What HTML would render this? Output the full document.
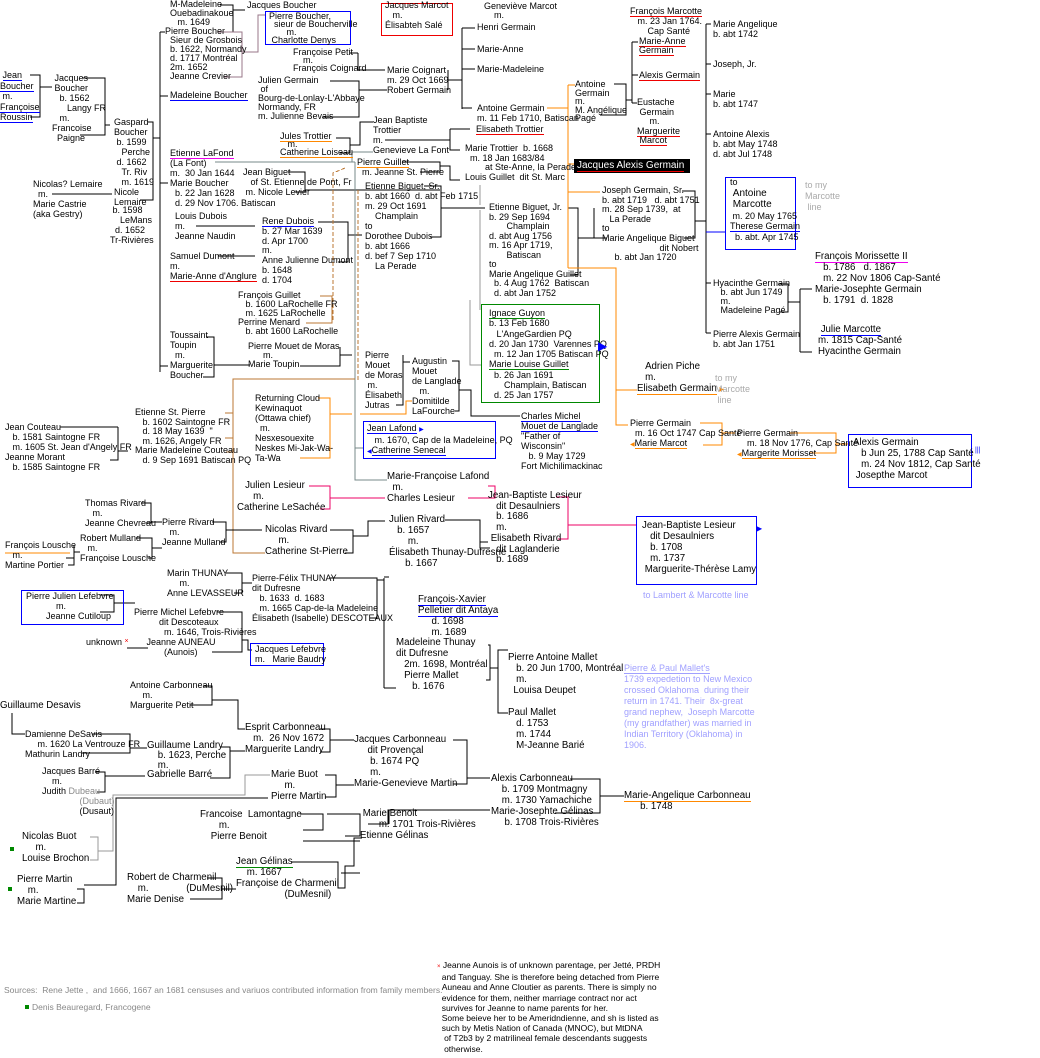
<!DOCTYPE html>
<html><head><meta charset="utf-8"><style>
body{margin:0;background:#fff;}
#w{position:relative;width:1040px;height:1058px;overflow:hidden;font-family:"Liberation Sans",sans-serif;font-size:9px;color:#000;}
.t{position:absolute;line-height:10px;white-space:nowrap;}
.L{font-size:9.7px;line-height:11px;}
.ub{border-bottom:1px solid #00f;}
.ur{border-bottom:1px solid #e00;}
.uo{border-bottom:1px solid #f80;}
.um{border-bottom:1px solid #e0e;}
.ug{border-bottom:1px solid #080;}
.box{position:absolute;border:1px solid #00f;}
svg{position:absolute;left:0;top:0;}
</style></head><body><div id="w">
<svg width="1040" height="1058" fill="none" stroke="#000" stroke-width="1" shape-rendering="crispEdges">
<path d="M30 75H40V117H30M40 87H52"/>
<path d="M82 78H105V135H80M105 125H110"/>
<path d="M148 122H153V200H140M153 138H160"/>
<path d="M160 32V372"/>
<path d="M160 32H165M160 96H168M160 183H168M160 366H168"/>
<path d="M52 194H112"/>
<path d="M220 5H233V32H222M233 10H245"/>
<path d="M218 32H242V77H224M242 52H258V15H265" stroke="#978"/>
<path d="M358 53V70H373M350 53H358M373 70H385"/>
<path d="M330 81H359V117H322M359 90H387"/>
<path d="M336 138H350V153H340M350 145H360V122H373"/>
<path d="M288 172H305V192H295M305 190H440"/>
<path d="M196 226H255"/>
<path d="M218 256H255"/>
<path d="M318 222H348V262H338M348 235H362"/>
<path d="M320 296H332V323H306" stroke="#b73"/>
<path d="M333 320V173L345 168" stroke="#b73" stroke-dasharray="4,2"/>
<path d="M358 190V380" stroke="#b73" stroke-dasharray="4,2"/>
<path d="M206 337H214V377H203M214 365H250"/>
<path d="M340 347V366H300M340 355H352"/>
<path d="M215 162H355M352 162V152H373" stroke="#788"/>
<path d="M355 162V480H387" stroke="#788"/>
<path d="M355 448H363" stroke="#788"/>
<path d="M480 185V205M480 210V310" stroke="#999"/>
<path d="M470 300V365H481" stroke="#999"/>
<path d="M448 70V90M448 80H462M462 28V109M462 28H475M462 49H475M462 69H475M462 108H472"/>
<path d="M385 140H450M450 129H470M450 129V150H460"/>
<path d="M402 162H440V172H420M440 166H450V180H460"/>
<path d="M424 186H441V237H430M441 208H485"/>
<path d="M568 208H578V275H570M578 238H594V208M594 238H607"/>
<path d="M403 355V405H396M403 362H410"/>
<path d="M452 361H459V411H455M459 390H471V416H520"/>
<path d="M355 379H233V553H265" stroke="#b73"/>
<path d="M225 413H233V452H226M225 438H233" stroke="#b73"/>
<path d="M118 427V460H110M118 427H60M118 451H128"/>
<path d="M318 398H330V458H300M330 414H352M360 414H406V401H412" stroke="#f80"/>
<path d="M309 486H330V509H320M330 498H385M468 498H495V486H488" stroke="#e06"/>
<path d="M141 503H151V523H146M151 522H162"/>
<path d="M212 522H226V542H220M226 530H262"/>
<path d="M330 530H353V553H345M353 536H368V521H385M445 520H480V548H490M480 542H488"/>
<path d="M136 538H152V558H148M152 548H162"/>
<path d="M74 545V565H68M66 558H74M74 552H80"/>
<path d="M5 553H70" stroke="#f80"/>
<path d="M226 573H242V593H234M242 583H252"/>
<path d="M330 578H377V618H370M377 580H384M384 578V688M384 577H389M384 688H396"/>
<path d="M100 595H114V612H100M114 603H135"/>
<path d="M217 612H242V652H212M242 640H248V650H252"/>
<path d="M127 648H148"/>
<path d="M556 497H568V539H558M568 525H636" stroke="#e06"/>
<path d="M488 645H490V680H486M490 668H498V650H508M498 668V713H508"/>
<path d="M203 686H212V705H190M212 700H238V729H245"/>
<path d="M12 713V734H25M92 734H130V753H82M130 748H147"/>
<path d="M95 772H105V792H97M105 776H145"/>
<path d="M220 747H230V778H210M230 751H245"/>
<path d="M320 729H330V752H320M330 740H354"/>
<path d="M325 775H336V797H325M336 785H354"/>
<path d="M453 740H467V784H453M467 778H490"/>
<path d="M570 779H600V813H555M600 796H624"/>
<path d="M300 814H323V830H303M327 814H360V836H345M368 824H388V810H490M389 810V824"/>
<path d="M303 841H360"/>
<path d="M90 860H98V851H113V795H245V775H270" stroke="#999"/>
<path d="M90 837H98V860" stroke="#999"/>
<path d="M77 889H84V903H77M84 885H116V798H268"/>
<path d="M362 838H354V866H345V888H338V862H291M341 873H360"/>
<path d="M207 878H222V899H190M222 889H236"/>
<path d="M547 108H568M568 85V268M568 85H575M568 164H574M568 192H600M568 268H616V425H628M616 390H637" stroke="#f80"/>
<path d="M614 84H626V115H600M626 100H632M632 42V103M632 42H638M632 75H638M632 103H637"/>
<path d="M682 191H695V238H684M695 221H706M706 24V333M706 24H711M706 64H711M706 94H711M706 134H711M706 283H711M706 333H711"/>
<path d="M706 232H725" stroke="#00f"/>
<path d="M778 284H788V312H780M788 302H800M800 289V352M800 289H812M800 352H812"/>
<path d="M700 423H722V445H703M722 433H735M789 433H836V453H810M836 444H848" stroke="#f80"/>
</svg>

<div class="t" style="left:0px;top:70px;line-height:10.5px">&nbsp;<span class="ub">Jean</span><br><span class="ub">Boucher</span><br>&nbsp;m.<br><span class="ub">Françoise</span><br><span class="ub">Roussin</span></div>
<div class="t" style="left:52px;top:73px">&nbsp;Jacques<br>&nbsp;Boucher<br>&nbsp;&nbsp;&nbsp;b. 1562<br>&nbsp;&nbsp;&nbsp;&nbsp;&nbsp;&nbsp;Langy FR<br>&nbsp;&nbsp;&nbsp;m.<br>Francoise<br>&nbsp;&nbsp;Paigne</div>
<div class="t" style="left:114px;top:117px">Gaspard<br>Boucher<br>&nbsp;b. 1599<br>&nbsp;&nbsp;&nbsp;Perche<br>&nbsp;d. 1662<br>&nbsp;&nbsp;&nbsp;Tr. Riv<br>&nbsp;&nbsp;&nbsp;m. 1619<br>Nicole<br>Lemaire</div>
<div class="t" style="left:110px;top:205px">&nbsp;b. 1598<br>&nbsp;&nbsp;&nbsp;&nbsp;LeMans<br>&nbsp;&nbsp;d. 1652<br>Tr-Rivières</div>
<div class="t" style="left:33px;top:179px">Nicolas? Lemaire<br>&nbsp;&nbsp;m.<br>Marie Castrie<br>(aka Gestry)</div>

<div class="t" style="left:170px;top:0px;line-height:9px">M-Madeleine<br>Ouebadinakoue<br>&nbsp;&nbsp;&nbsp;m. 1649</div>
<div class="t" style="left:247px;top:0px">Jacques Boucher</div>
<div class="t" style="left:165px;top:27px;line-height:9px">Pierre Boucher<br>&nbsp;&nbsp;Sieur de Grosbois<br>&nbsp;&nbsp;b. 1622, Normandy<br>&nbsp;&nbsp;d. 1717 Montréal<br>&nbsp;&nbsp;2m. 1652<br>&nbsp;&nbsp;Jeanne Crevier</div>
<div class="box" style="left:265px;top:11px;width:84px;height:32px"></div>
<div class="t" style="left:269px;top:12px;line-height:8px">Pierre Boucher,<br>&nbsp;&nbsp;sieur de Boucherville<br>&nbsp;&nbsp;&nbsp;&nbsp;&nbsp;&nbsp;&nbsp;m.<br>&nbsp;Charlotte Denys</div>
<div class="t" style="left:170px;top:90px"><span class="ub">Madeleine Boucher</span></div>
<div class="t" style="left:170px;top:148px"><span class="um">Etienne LaFond</span><br>(La Font)<br>m.&nbsp; 30 Jan 1644<br>Marie Boucher<br>&nbsp;&nbsp;b. 22 Jan 1628<br>&nbsp;&nbsp;d. 29 Nov 1706. Batiscan</div>
<div class="t" style="left:175px;top:211px">Louis Dubois<br>m.<br>Jeanne Naudin</div>
<div class="t" style="left:170px;top:251px">Samuel Dumont<br>m.<br><span class="ur">Marie-Anne d'Anglure</span></div>
<div class="t" style="left:238px;top:291px;line-height:9px">François Guillet<br>&nbsp;&nbsp;&nbsp;b. 1600 LaRochelle FR<br>&nbsp;&nbsp;&nbsp;m. 1625 LaRochelle<br>Perrine Menard<br>&nbsp;&nbsp;&nbsp;b. abt 1600 LaRochelle</div>
<div class="t" style="left:170px;top:330px">Toussaint<br>Toupin<br>&nbsp;&nbsp;m.<br>Marguerite<br>Boucher</div>
<div class="t" style="left:248px;top:342px;line-height:9px">Pierre Mouet de Moras<br>&nbsp;&nbsp;&nbsp;&nbsp;&nbsp;&nbsp;m.<br>Marie Toupin</div>

<div class="t" style="left:293px;top:48px;line-height:8px">Françoise Petit<br>&nbsp;&nbsp;&nbsp;&nbsp;m.<br>François Coignard</div>
<div class="t" style="left:258px;top:76px;line-height:9px">Julien Germain<br>&nbsp;of<br>Bourg-de-Lonlay-L'Abbaye<br>Normandy, FR<br>m. Julienne Bevais</div>
<div class="t" style="left:280px;top:132px;line-height:8px"><span class="uo">Jules Trottier</span><br>&nbsp;&nbsp;&nbsp;m.<br><span class="uo">Catherine Loiseau</span></div>
<div class="t" style="left:373px;top:115px">Jean Baptiste<br>Trottier<br>m.<br>Genevieve La Font</div>
<div class="t" style="left:243px;top:167px">Jean Biguet<br>&nbsp;&nbsp;&nbsp;of St. Etienne de Pont, Fr<br>&nbsp;m. Nicole Levier</div>
<div class="t" style="left:262px;top:217px;line-height:9.8px"><span class="ub">Rene Dubois</span><br>b. 27 Mar 1639<br>d. Apr 1700<br>m.<br>Anne Julienne Dumont<br>b. 1648<br>d. 1704</div>
<div class="t" style="left:255px;top:393px">Returning Cloud<br>Kewinaquot<br>(Ottawa chief)<br>&nbsp;&nbsp;m.<br>Nesxesouexite<br>Neskes Mi-Jak-Wa-<br>Ta-Wa</div>
<div class="t" style="left:135px;top:408px;line-height:9.5px">Etienne St. Pierre<br>&nbsp;&nbsp;&nbsp;b. 1602 Saintogne FR<br>&nbsp;&nbsp;&nbsp;d. 18 May 1639 &nbsp;"<br>&nbsp;&nbsp;&nbsp;m. 1626, Angely FR<br>Marie Madeleine Couteau<br>&nbsp;&nbsp;&nbsp;d. 9 Sep 1691 Batiscan PQ</div>
<div class="t" style="left:5px;top:422px">Jean Couteau<br>&nbsp;&nbsp;&nbsp;b. 1581 Saintogne FR<br>&nbsp;&nbsp;&nbsp;m. 1605 St. Jean d'Angely FR<br>Jeanne Morant<br>&nbsp;&nbsp;&nbsp;b. 1585 Saintogne FR</div>
<div class="t L" style="left:237px;top:480px">&nbsp;&nbsp;&nbsp;Julien Lesieur<br>&nbsp;&nbsp;&nbsp;&nbsp;&nbsp;&nbsp;m.<br>Catherine LeSachée</div>
<div class="t" style="left:85px;top:498px">Thomas Rivard<br>&nbsp;&nbsp;&nbsp;m.<br>Jeanne Chevreau</div>
<div class="t" style="left:162px;top:517px">Pierre Rivard<br>&nbsp;&nbsp;&nbsp;m.<br>Jeanne Mulland</div>
<div class="t L" style="left:265px;top:524px">Nicolas Rivard<br>&nbsp;&nbsp;&nbsp;&nbsp;&nbsp;m.<br>Catherine St-Pierre</div>
<div class="t" style="left:80px;top:533px">Robert Mulland<br>&nbsp;&nbsp;&nbsp;m.<br>Françoise Lousche</div>
<div class="t" style="left:5px;top:540px">François Lousche<br>&nbsp;&nbsp;&nbsp;m.<br>Martine Portier</div>
<div class="t" style="left:167px;top:568px">Marin THUNAY<br>&nbsp;&nbsp;&nbsp;&nbsp;&nbsp;m.<br>Anne LEVASSEUR</div>
<div class="t" style="left:252px;top:573px">Pierre-Félix THUNAY<br>dit Dufresne<br>&nbsp;&nbsp;&nbsp;b. 1633&nbsp; d. 1683<br>&nbsp;&nbsp;&nbsp;m. 1665 Cap-de-la Madeleine<br>Élisabeth (Isabelle) DESCOTEAUX</div>
<div class="box" style="left:21px;top:590px;width:101px;height:33px"></div>
<div class="t" style="left:26px;top:591px">Pierre Julien Lefebvre<br>&nbsp;&nbsp;&nbsp;&nbsp;&nbsp;&nbsp;&nbsp;&nbsp;&nbsp;&nbsp;&nbsp;&nbsp;m.<br>&nbsp;&nbsp;&nbsp;&nbsp;&nbsp;&nbsp;&nbsp;&nbsp;Jeanne Cutiloup</div>
<div class="t" style="left:134px;top:607px">Pierre Michel Lefebvre<br>&nbsp;&nbsp;&nbsp;&nbsp;&nbsp;&nbsp;&nbsp;&nbsp;&nbsp;&nbsp;dit Descoteaux<br>&nbsp;&nbsp;&nbsp;&nbsp;&nbsp;&nbsp;&nbsp;&nbsp;&nbsp;&nbsp;&nbsp;&nbsp;m. 1646, Trois-Rivières<br>&nbsp;&nbsp;&nbsp;&nbsp;&nbsp;Jeanne AUNEAU<br>&nbsp;&nbsp;&nbsp;&nbsp;&nbsp;&nbsp;&nbsp;&nbsp;&nbsp;&nbsp;&nbsp;&nbsp;(Aunois)</div>
<div class="t" style="left:86px;top:637px">unknown <span style="color:#e00;font-size:7px;vertical-align:top">×</span></div>
<div class="box" style="left:250px;top:643px;width:72px;height:21px"></div>
<div class="t" style="left:255px;top:644px">Jacques Lefebvre<br>m.&nbsp;&nbsp; Marie Baudry</div>

<div class="box" style="left:381px;top:3px;width:70px;height:31px;border-color:#e00"></div>
<div class="t" style="left:385px;top:0px">Jacques Marcot<br>&nbsp;&nbsp;&nbsp;m.<br>Élisabteh Salé</div>
<div class="t" style="left:484px;top:2px;line-height:9px">Geneviève Marcot<br>&nbsp;&nbsp;&nbsp;&nbsp;m.</div>
<div class="t" style="left:477px;top:22px">Henri Germain</div>
<div class="t" style="left:477px;top:44px">Marie-Anne</div>
<div class="t" style="left:477px;top:64px">Marie-Madeleine</div>
<div class="t" style="left:477px;top:103px">Antoine Germain<br>m. 11 Feb 1710, Batiscan</div>
<div class="t" style="left:387px;top:65px">Marie Coignart<br>m. 29 Oct 1669<br>Robert Germain</div>
<div class="t" style="left:476px;top:124px"><span class="ur">Elisabeth Trottier</span></div>
<div class="t" style="left:465px;top:144px;line-height:9.5px">Marie Trottier&nbsp; b. 1668<br>&nbsp;&nbsp;m. 18 Jan 1683/84<br>&nbsp;&nbsp;&nbsp;&nbsp;&nbsp;&nbsp;&nbsp;&nbsp;at Ste-Anne, la Perade<br>Louis Guillet&nbsp; dit St. Marc</div>
<div class="t" style="left:357px;top:157px"><span class="uo">Pierre Guillet</span><br>&nbsp;&nbsp;m. Jeanne St. Pierre</div>
<div class="t" style="left:365px;top:181px">Etienne Biguet, Sr.<br>b. abt 1660&nbsp; d. abt Feb 1715<br>m. 29 Oct 1691<br>&nbsp;&nbsp;&nbsp;&nbsp;Champlain<br>to<br>Dorothee Dubois<br>b. abt 1666<br>d. bef 7 Sep 1710<br>&nbsp;&nbsp;&nbsp;&nbsp;La Perade</div>
<div class="t" style="left:489px;top:203px;line-height:9.5px">Etienne Biguet, Jr.<br>b. 29 Sep 1694<br>&nbsp;&nbsp;&nbsp;&nbsp;&nbsp;&nbsp;&nbsp;Champlain<br>d. abt Aug 1756<br>m. 16 Apr 1719,<br>&nbsp;&nbsp;&nbsp;&nbsp;&nbsp;&nbsp;&nbsp;Batiscan<br>to<br>Marie Angelique Guillet<br>&nbsp;&nbsp;b. 4 Aug 1762&nbsp; Batiscan<br>&nbsp;&nbsp;d. abt Jan 1752</div>
<div class="box" style="left:481px;top:304px;width:117px;height:97px;border-color:#080"></div>
<div class="t" style="left:489px;top:308px;line-height:10.3px"><span class="ug">Ignace Guyon</span><br>b. 13 Feb 1680<br>&nbsp;&nbsp;&nbsp;L'AngeGardien PQ<br>d. 20 Jan 1730&nbsp; Varennes PQ<br>&nbsp;&nbsp;m. 12 Jan 1705 Batiscan PQ<br><span class="ug">Marie Louise Guillet</span><br>&nbsp;&nbsp;b. 26 Jan 1691<br>&nbsp;&nbsp;&nbsp;&nbsp;&nbsp;&nbsp;Champlain, Batiscan<br>&nbsp;&nbsp;d. 25 Jan 1757</div>
<div class="t" style="left:598px;top:341px;color:#00f;font-size:12px">&#9654;</div>
<div class="t" style="left:365px;top:350px">Pierre<br>Mouet<br>de Moras<br>&nbsp;m.<br>Élisabeth<br>Jutras</div>
<div class="t" style="left:412px;top:356px">Augustin<br>Mouet<br>de Langlade<br>&nbsp;&nbsp;&nbsp;m.<br>Domitilde<br>LaFourche</div>
<div class="t" style="left:521px;top:411px"><span class="ub">Charles Michel</span><br><span class="ub">Mouet de Langlade</span><br>"Father of<br>Wisconsin"<br>&nbsp;&nbsp;&nbsp;b. 9 May 1729<br>Fort Michilimackinac</div>
<div class="box" style="left:363px;top:421px;width:131px;height:36px"></div>
<div class="t" style="left:367px;top:423px"><span class="ub">Jean Lafond</span> <span style="color:#00f;font-size:6px">▶</span><br>&nbsp;&nbsp;&nbsp;m. 1670, Cap de la Madeleine, PQ<br><span style="color:#00f;font-size:6px">◀</span><span class="ub">Catherine Senecal</span></div>
<div class="t L" style="left:387px;top:471px">Marie-Françoise Lafond<br>&nbsp;&nbsp;m.<br>Charles Lesieur</div>
<div class="t L" style="left:488px;top:491px;line-height:10.7px">Jean-Baptiste Lesieur<br>&nbsp;&nbsp;&nbsp;dit Desaulniers<br>&nbsp;&nbsp;&nbsp;b. 1686<br>&nbsp;&nbsp;&nbsp;m.<br>&nbsp;Elisabeth Rivard<br>&nbsp;&nbsp;&nbsp;dit Laglanderie<br>&nbsp;&nbsp;&nbsp;b. 1689</div>
<div class="t L" style="left:389px;top:514px">Julien Rivard<br>&nbsp;&nbsp;&nbsp;b. 1657<br>&nbsp;&nbsp;&nbsp;&nbsp;&nbsp;&nbsp;&nbsp;m.<br>Élisabeth Thunay-Dufresne<br>&nbsp;&nbsp;&nbsp;&nbsp;&nbsp;&nbsp;b. 1667</div>
<div class="t L" style="left:418px;top:594px"><span class="ub">François-Xavier</span><br><span class="ub">Pelletier dit Antaya</span><br>&nbsp;&nbsp;&nbsp;&nbsp;&nbsp;d. 1698<br>&nbsp;&nbsp;&nbsp;&nbsp;&nbsp;m. 1689</div>
<div class="t L" style="left:396px;top:637px">Madeleine Thunay<br>dit Dufresne<br>&nbsp;&nbsp;&nbsp;2m. 1698, Montréal<br>&nbsp;&nbsp;&nbsp;Pierre Mallet<br>&nbsp;&nbsp;&nbsp;&nbsp;&nbsp;&nbsp;b. 1676</div>
<div class="t L" style="left:508px;top:652px">Pierre Antoine Mallet<br>&nbsp;&nbsp;&nbsp;b. 20 Jun 1700, Montréal<br>&nbsp;&nbsp;&nbsp;m.<br>&nbsp;&nbsp;Louisa Deupet</div>
<div class="t L" style="left:508px;top:707px">Paul Mallet<br>&nbsp;&nbsp;&nbsp;d. 1753<br>&nbsp;&nbsp;&nbsp;m. 1744<br>&nbsp;&nbsp;&nbsp;M-Jeanne Barié</div>
<div class="t" style="left:624px;top:663px;color:#a0a0ff;line-height:11px"><span style="border-bottom:1px solid #a0a0ff">Pierre &amp; Paul Mallet's</span><br>1739 expedetion to New Mexico<br>crossed Oklahoma&nbsp; during their<br>return in 1741. Their&nbsp; 8x-great<br>grand nephew,&nbsp; Joseph Marcotte<br>(my grandfather) was married in<br>Indian Territory (Oklahoma) in<br>1906.</div>

<div class="t" style="left:130px;top:680px">Antoine Carbonneau<br>&nbsp;&nbsp;&nbsp;&nbsp;&nbsp;m.<br>Marguerite Petit</div>
<div class="t L" style="left:0px;top:700px">Guillaume Desavis</div>
<div class="t" style="left:25px;top:729px">Damienne DeSavis<br>&nbsp;&nbsp;&nbsp;&nbsp;&nbsp;m. 1620 La Ventrouze FR<br>Mathurin Landry</div>
<div class="t" style="left:42px;top:766px">Jacques Barré<br>&nbsp;&nbsp;&nbsp;&nbsp;m.<br>Judith <span style="color:#888">Dubeau</span><br>&nbsp;&nbsp;&nbsp;&nbsp;&nbsp;&nbsp;&nbsp;&nbsp;&nbsp;&nbsp;&nbsp;&nbsp;&nbsp;&nbsp;&nbsp;<span style="color:#888">(Dubaut)</span><br>&nbsp;&nbsp;&nbsp;&nbsp;&nbsp;&nbsp;&nbsp;&nbsp;&nbsp;&nbsp;&nbsp;&nbsp;&nbsp;&nbsp;&nbsp;(Dusaut)</div>
<div class="t L" style="left:147px;top:741px;line-height:9.8px">Guillaume Landry<br>&nbsp;&nbsp;&nbsp;&nbsp;b. 1623, Perche<br>&nbsp;&nbsp;&nbsp;&nbsp;m.<br>Gabrielle Barré</div>
<div class="t L" style="left:245px;top:722px">Esprit Carbonneau<br>&nbsp;&nbsp;&nbsp;m.&nbsp; 26 Nov 1672<br>Marguerite Landry</div>
<div class="t L" style="left:354px;top:734px">Jacques Carbonneau<br>&nbsp;&nbsp;&nbsp;&nbsp;&nbsp;dit Provençal<br>&nbsp;&nbsp;&nbsp;&nbsp;&nbsp;&nbsp;b. 1674 PQ<br>&nbsp;&nbsp;&nbsp;&nbsp;&nbsp;&nbsp;m.<br>Marie-Genevieve Martin</div>
<div class="t L" style="left:271px;top:769px">Marie Buot<br>&nbsp;&nbsp;&nbsp;&nbsp;&nbsp;m.<br>Pierre Martin</div>
<div class="t L" style="left:491px;top:773px">Alexis Carbonneau<br>&nbsp;&nbsp;&nbsp;&nbsp;b. 1709 Montmagny<br>&nbsp;&nbsp;&nbsp;&nbsp;m. 1730 Yamachiche<br>Marie-Josephte Gélinas<br>&nbsp;&nbsp;&nbsp;&nbsp;&nbsp;b. 1708 Trois-Rivières</div>
<div class="t L" style="left:624px;top:790px"><span class="uo">Marie-Angelique Carbonneau</span><br>&nbsp;&nbsp;&nbsp;&nbsp;&nbsp;&nbsp;b. 1748</div>
<div class="t L" style="left:200px;top:809px">Francoise&nbsp; Lamontagne<br>&nbsp;&nbsp;&nbsp;&nbsp;&nbsp;&nbsp;&nbsp;m.<br>&nbsp;&nbsp;&nbsp;&nbsp;Pierre Benoit</div>
<div class="t L" style="left:360px;top:808px">&nbsp;Marie Benoit<br>&nbsp;&nbsp;&nbsp;&nbsp;&nbsp;&nbsp;&nbsp;m. 1701 Trois-Rivières<br>Etienne Gélinas</div>
<div style="position:absolute;left:10px;top:847px;width:4px;height:4px;background:#080"></div>
<div class="t L" style="left:22px;top:831px">Nicolas Buot<br>&nbsp;&nbsp;&nbsp;&nbsp;&nbsp;m.<br>Louise Brochon</div>
<div class="t L" style="left:236px;top:856px"><span class="ug">Jean Gélinas</span><br>&nbsp;&nbsp;&nbsp;&nbsp;m. 1667<br>Françoise de Charmenil<br>&nbsp;&nbsp;&nbsp;&nbsp;&nbsp;&nbsp;&nbsp;&nbsp;&nbsp;&nbsp;&nbsp;&nbsp;&nbsp;&nbsp;&nbsp;&nbsp;&nbsp;&nbsp;(DuMesnil)</div>
<div class="t L" style="left:127px;top:872px">Robert de Charmenil<br>&nbsp;&nbsp;&nbsp;&nbsp;m.&nbsp;&nbsp;&nbsp;&nbsp;&nbsp;&nbsp;&nbsp;&nbsp;&nbsp;&nbsp;&nbsp;&nbsp;&nbsp;&nbsp;(DuMesnil)<br>Marie Denise</div>
<div style="position:absolute;left:8px;top:887px;width:4px;height:4px;background:#080"></div>
<div class="t L" style="left:17px;top:874px">Pierre Martin<br>&nbsp;&nbsp;&nbsp;&nbsp;m.<br>Marie Martine</div>

<div class="t" style="left:4px;top:985px;color:#888;font-size:8.5px">Sources:&nbsp; Rene Jette ,&nbsp; and 1666, 1667 an 1681 censuses and variuos contributed information from family members.</div>
<div style="position:absolute;left:25px;top:1005px;width:4px;height:4px;background:#080"></div>
<div class="t" style="left:32px;top:1002px;color:#888;font-size:8.5px">Denis Beauregard, Francogene</div>
<div class="t" style="left:437px;top:960px;font-size:8.5px;line-height:10.2px"><span style="color:#e00;font-size:6px">×</span> Jeanne Aunois is of unknown parentage, per Jetté, PRDH<br>&nbsp;&nbsp;and Tanguay. She is therefore being detached from Pierre<br>&nbsp;&nbsp;Auneau and Anne Cloutier as parents. There is simply no<br>&nbsp;&nbsp;evidence for them, neither marriage contract nor act<br>&nbsp;&nbsp;survives for Jeanne to name parents for her.<br>&nbsp;&nbsp;Some beieve her to be Ameridndienne, and sh is listed as<br>&nbsp;&nbsp;such by Metis Nation of Canada (MNOC), but MtDNA<br>&nbsp;&nbsp;&nbsp;of T2b3 by 2 matrilineal female descendants suggests<br>&nbsp;&nbsp;&nbsp;otherwise.</div>

<div class="t" style="left:630px;top:6px"><span class="ur">François Marcotte</span><br>&nbsp;&nbsp;&nbsp;m. 23 Jan 1764.<br>&nbsp;&nbsp;&nbsp;&nbsp;&nbsp;&nbsp;&nbsp;Cap Santé</div>
<div class="t" style="left:639px;top:37px;line-height:9px"><span class="ur">Marie-Anne</span><br><span class="ur">Germain</span></div>
<div class="t" style="left:639px;top:70px"><span class="ur">Alexis Germain</span></div>
<div class="t" style="left:637px;top:98px;line-height:9.5px">Eustache<br>&nbsp;Germain<br>&nbsp;&nbsp;&nbsp;&nbsp;&nbsp;m.<br><span class="ur">Marguerite</span><br>&nbsp;<span class="ur">Marcot</span></div>
<div class="t" style="left:575px;top:80px;line-height:8.5px">Antoine<br>Germain<br>m.<br>M. Angélique<br>Pagé</div>
<div style="position:absolute;left:574px;top:159px;width:116px;height:14px;background:#000"></div>
<div class="t" style="left:577px;top:161px;color:#fff;font-size:10px"><span style="border-bottom:1px solid #e00">Jacques Alexis Germain</span></div>
<div class="t" style="left:602px;top:186px;line-height:9.6px">Joseph Germain, Sr.<br>b. abt 1719&nbsp;&nbsp; d. abt 1751<br>m. 28 Sep 1739,&nbsp; at<br>&nbsp;&nbsp;&nbsp;La Perade<br>to<br>Marie Angelique Biguet<br>&nbsp;&nbsp;&nbsp;&nbsp;&nbsp;&nbsp;&nbsp;&nbsp;&nbsp;&nbsp;&nbsp;&nbsp;&nbsp;&nbsp;&nbsp;&nbsp;&nbsp;&nbsp;&nbsp;&nbsp;&nbsp;&nbsp;&nbsp;dit Nobert<br>&nbsp;&nbsp;&nbsp;&nbsp;&nbsp;b. abt Jan 1720</div>
<div class="t" style="left:713px;top:19px">Marie Angelique<br>b. abt 1742</div>
<div class="t" style="left:713px;top:59px">Joseph, Jr.</div>
<div class="t" style="left:713px;top:89px">Marie<br>b. abt 1747</div>
<div class="t" style="left:713px;top:129px">Antoine Alexis<br>b. abt May 1748<br>d. abt Jul 1748</div>
<div class="box" style="left:725px;top:177px;width:69px;height:71px"></div>
<div class="t" style="left:730px;top:177px;line-height:10.5px">to<br><span style="font-size:10px">&nbsp;Antoine<br>&nbsp;Marcotte</span><br>&nbsp;m. 20 May 1765<br><span class="ub">Therese Germain</span><br>&nbsp;&nbsp;b. abt. Apr 1745</div>
<div class="t" style="left:805px;top:180px;color:#aaa;line-height:11px">to my<br>Marcotte<br>&nbsp;line</div>
<div class="t" style="left:713px;top:279px;line-height:9px">Hyacinthe Germain<br>&nbsp;&nbsp;&nbsp;b. abt Jun 1749<br>&nbsp;&nbsp;&nbsp;m.<br>&nbsp;&nbsp;&nbsp;Madeleine Pagé</div>
<div class="t" style="left:713px;top:329px">Pierre Alexis Germain<br>b. abt Jan 1751</div>
<div class="t L" style="left:815px;top:251px"><span class="um">François Morissette II</span><br>&nbsp;&nbsp;&nbsp;b. 1786&nbsp;&nbsp; d. 1867<br>&nbsp;&nbsp;&nbsp;m. 22 Nov 1806 Cap-Santé<br>Marie-Josephte Germain<br>&nbsp;&nbsp;&nbsp;b. 1791&nbsp; d. 1828</div>
<div class="t L" style="left:818px;top:324px">&nbsp;<span class="ub">Julie Marcotte</span><br>m. 1815 Cap-Santé<br>Hyacinthe Germain</div>
<div class="t L" style="left:637px;top:361px">&nbsp;&nbsp;&nbsp;Adrien Piche<br>&nbsp;&nbsp;&nbsp;m.<br><span class="uo">Elisabeth Germain</span> <span style="color:#f80;font-size:6px">▶</span></div>
<div class="t" style="left:715px;top:373px;color:#aaa;line-height:11px">to my<br>Marcotte<br>&nbsp;line</div>
<div class="t" style="left:630px;top:418px">Pierre Germain<br>&nbsp;&nbsp;m. 16 Oct 1747 Cap Santé<br><span style="color:#f80;font-size:6px">◀</span><span class="uo">Marie Marcot</span></div>
<div class="t" style="left:737px;top:428px">Pierre Germain<br>&nbsp;&nbsp;&nbsp;&nbsp;m. 18 Nov 1776, Cap Santé<br><span style="color:#f80;font-size:6px">◀</span><span class="uo">Margerite Morisset</span></div>
<div class="box" style="left:848px;top:434px;width:122px;height:52px"></div>
<div class="t L" style="left:853px;top:437px">Alexis Germain<br>&nbsp;&nbsp;&nbsp;b Jun 25, 1788 Cap Santé<br>&nbsp;&nbsp;&nbsp;m. 24 Nov 1812, Cap Santé<br>&nbsp;Josepthe Marcot</div>
<div class="t" style="left:975px;top:446px;color:#00f;font-size:7px">|||</div>
<div class="box" style="left:636px;top:516px;width:119px;height:67px"></div>
<div class="t L" style="left:642px;top:520px">Jean-Baptiste Lesieur<br>&nbsp;&nbsp;&nbsp;dit Desaulniers<br>&nbsp;&nbsp;&nbsp;b. 1708<br>&nbsp;&nbsp;&nbsp;m. 1737<br>&nbsp;Marguerite-Thérèse Lamy</div>
<div class="t" style="left:756px;top:524px;color:#00f;font-size:8px">▶</div>
<div class="t" style="left:643px;top:590px;color:#a0a0ff">to Lambert &amp; Marcotte line</div>
</div></body></html>
